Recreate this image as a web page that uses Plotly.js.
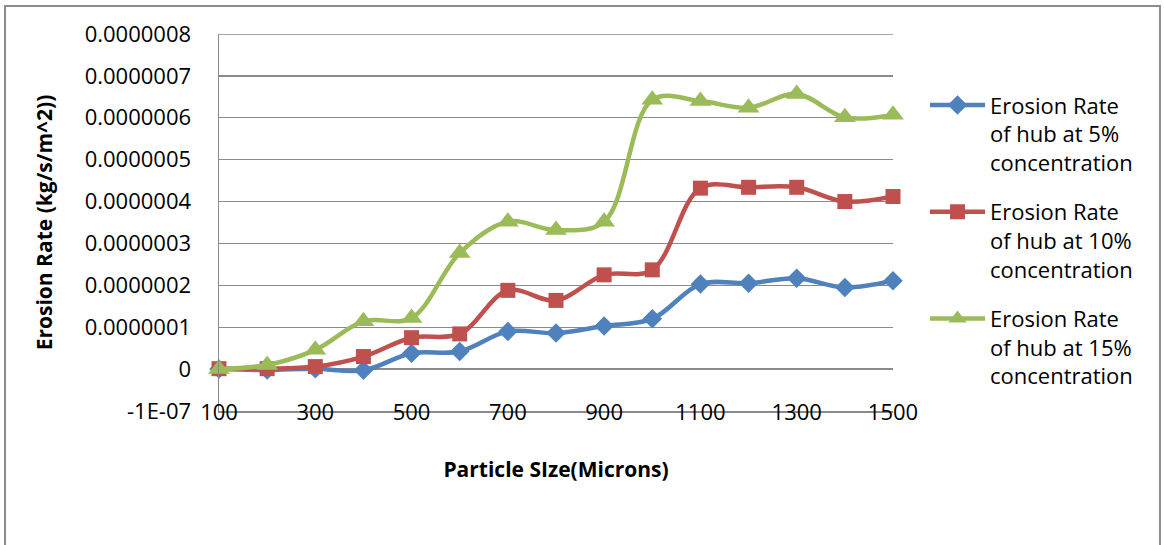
<!DOCTYPE html>
<html>
<head>
<meta charset="utf-8">
<script src="https://cdn.plot.ly/plotly-3.0.1.min.js"></script>
<style>
  html, body { margin: 0; padding: 0; background: #ffffff; }
  #chart { width: 1164px; height: 545px; }
</style>
</head>
<body>
<div id="chart"></div>
<script>
// Particle sizes (microns)
const particleSizes = [100, 200, 300, 400, 500, 600, 700, 800, 900, 1000, 1100, 1200, 1300, 1400, 1500];

// Erosion rate of hub (kg/s/m^2) at each slurry concentration
const rate5 = [0, -2e-9, 1e-9, -3e-9, 3.8e-8, 4.2e-8, 9.0e-8, 8.6e-8, 1.03e-7, 1.20e-7, 2.03e-7, 2.05e-7, 2.17e-7, 1.95e-7, 2.11e-7];
const rate10 = [1e-9, 1e-9, 6e-9, 3.0e-8, 7.5e-8, 8.4e-8, 1.88e-7, 1.64e-7, 2.25e-7, 2.37e-7, 4.32e-7, 4.34e-7, 4.34e-7, 4.00e-7, 4.12e-7];
const rate15 = [0, 1.0e-8, 4.6e-8, 1.14e-7, 1.22e-7, 2.77e-7, 3.52e-7, 3.32e-7, 3.52e-7, 6.43e-7, 6.40e-7, 6.24e-7, 6.57e-7, 6.01e-7, 6.07e-7];

const seriesNames = [
  'Erosion Rate<br>of hub at 5%<br>concentration',
  'Erosion Rate<br>of hub at 10%<br>concentration',
  'Erosion Rate<br>of hub at 15%<br>concentration'
];

// Axis ticks
const xTickVals = [100, 300, 500, 700, 900, 1100, 1300, 1500];
const yTickVals = [-1e-7, 0, 1e-7, 2e-7, 3e-7, 4e-7, 5e-7, 6e-7, 7e-7, 8e-7];
const yTickText = ['-1E-07', '0', '0.0000001', '0.0000002', '0.0000003', '0.0000004',
                   '0.0000005', '0.0000006', '0.0000007', '0.0000008'];
const yMin = -1e-7;
const yMax = 8e-7;

const FONT = '"Open Sans", "Liberation Sans", sans-serif';

function series(y, name, color, symbol, size, group) {
  return {
    x: particleSizes, y: y, name: name, type: 'scatter', mode: 'lines+markers',
    legendgroup: group,
    line: { color: color, width: 4.5, shape: 'spline', smoothing: 1 },
    marker: { color: color, symbol: symbol, size: size, line: { width: 0 } },
    cliponaxis: false
  };
}

const traces = [
  series(rate5, seriesNames[0], '#4F81BD', 'diamond', 15, 'a'),
  series(rate10, seriesNames[1], '#C0504D', 'square', 15, 'b'),
  series(rate15, seriesNames[2], '#9BBB59', 'triangle-up', 19, 'c')
];

const gridColor = '#8a8a8a';

const layout = {
  width: 1164, height: 545,
  margin: { l: 219, r: 271, t: 34, b: 134, pad: 0 },
  paper_bgcolor: '#ffffff', plot_bgcolor: '#ffffff',
  font: { family: FONT, size: 22, color: '#000000' },
  showlegend: true,
  legend: {
    x: 1.0475, xanchor: 'left', y: 0.867, yanchor: 'top',
    valign: 'top', traceorder: 'grouped', tracegroupgap: 18,
    itemwidth: 55,
    font: { family: FONT, size: 22, color: '#000000' },
    bgcolor: 'rgba(0,0,0,0)', borderwidth: 0
  },
  xaxis: {
    type: 'linear', range: [100, 1500],
    tickmode: 'array', tickvals: xTickVals,
    ticks: '', showgrid: false, zeroline: false,
    showline: true, linecolor: gridColor, linewidth: 1.5,
    tickfont: { family: FONT, size: 22, color: '#000000' },
    ticklabelstandoff: -19,
    title: { text: '<b>Particle SIze(Microns)</b>', font: { family: FONT, size: 21, color: '#000000' }, standoff: 37 }
  },
  yaxis: {
    range: [yMin, yMax],
    tickmode: 'array', tickvals: yTickVals, ticktext: yTickText,
    ticks: '', showgrid: true, gridcolor: gridColor, gridwidth: 1.3,
    zeroline: false,
    showline: true, linecolor: gridColor, linewidth: 1.5,
    tickfont: { family: FONT, size: 22, color: '#000000' },
    ticklabelstandoff: 22,
    title: { text: '<b>Erosion Rate (kg/s/m^2))</b>', font: { family: FONT, size: 21, color: '#000000' }, standoff: 26 }
  },
  shapes: [
    // gridline along the top of the value axis
    { type: 'line', xref: 'paper', yref: 'y', x0: 0, x1: 1, y0: yMax, y1: yMax,
      line: { color: gridColor, width: 1.3 }, layer: 'below' },
    // chart area frame
    { type: 'rect', xref: 'paper', yref: 'paper',
      x0: -0.3175, x1: 1.3961, y0: -0.40, y1: 1.0743,
      line: { color: '#8c8c8c', width: 2 }, fillcolor: 'rgba(0,0,0,0)', layer: 'below' }
  ]
};

Plotly.newPlot('chart', traces, layout, { displayModeBar: false, staticPlot: true });
</script>
</body>
</html>
